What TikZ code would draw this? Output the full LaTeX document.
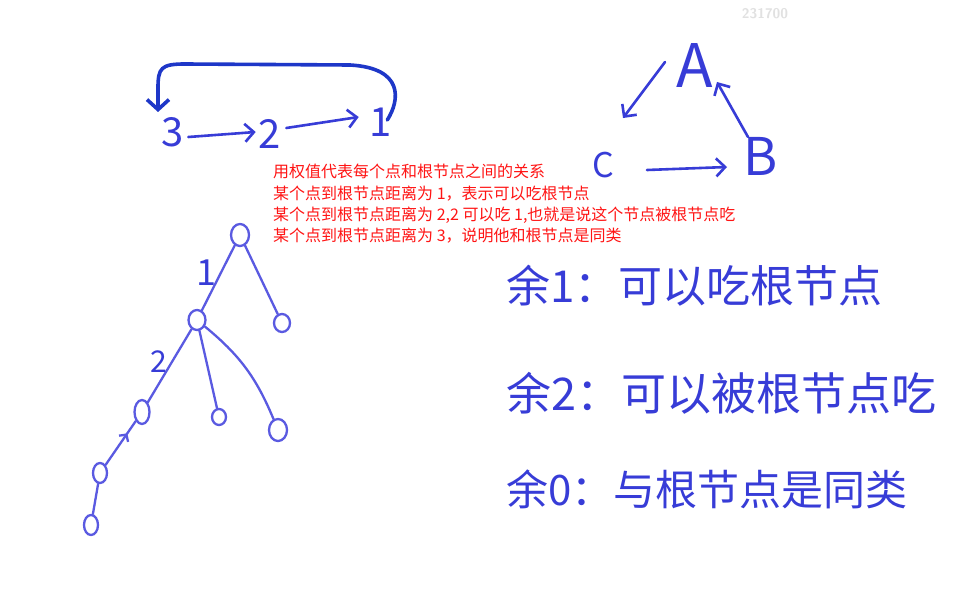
\documentclass[tikz,border=0pt]{standalone}
\usepackage{fontspec}
\newfontfamily\cjk{Noto Sans CJK SC}
\usetikzlibrary{arrows.meta,shapes.geometric,decorations.markings,calc}
\definecolor{hand}{RGB}{55,60,215}
\definecolor{treec}{RGB}{90,90,225}
\definecolor{loopc}{RGB}{30,55,200}
\definecolor{redt}{RGB}{255,20,20}
\definecolor{wm}{RGB}{225,225,225}
\newcommand{\fs}[1]{\cjk\fontsize{#1}{#1}\selectfont}
\begin{document}
\begin{tikzpicture}[x=1pt,y=-1pt,
  hw/.style={text=hand, inner sep=1pt},
  arr/.style={draw=hand, line width=2.6pt, line cap=round,
    -{Straight Barb[length=9pt,width=18pt,line width=2.6pt]}},
  tn/.style={draw=treec, line width=2.3pt, ellipse, inner sep=0pt},
  te/.style={draw=treec, line width=2.3pt, line cap=round},
  lab/.style={text=hand, inner sep=1pt}]
\useasboundingbox[fill=white] (0,0) rectangle (965,599);

% watermark
\node[text=wm, font=\sffamily\bfseries\fontsize{14}{14}\selectfont] (wmk) at (765,14) {231700};

% top-left chain 3 -> 2 -> 1 with loop
\node[hw, font=\fs{40}] (n3) at (173,132) {3};
\node[hw, font=\fs{40}] (n2) at (270,134) {2};
\node[hw, font=\fs{40}] (n1) at (381,122) {1};
\coordinate (loopend) at (158,112);
\draw[arr] ([shift={(3,5)}]n3.east) -- ([shift={(-2,-2)}]n2.west);
\draw[arr] ([shift={(4,-6)}]n2.east) -- ([shift={(-10,-5)}]n1.west);
\draw[draw=loopc, line width=3.6pt, line cap=round, line join=round,
  -{Straight Barb[length=10pt,width=22pt,line width=3.6pt]}]
  ([shift={(-6,-2)}]n1.east) .. controls (400,100) and (404,68) .. (350,65)
  -- (185,64) .. controls (161,64) and (158,68) .. (158,88) -- (loopend);

% triangle A B C
\node[hw, font=\fs{60}] (A) at (695,66) {A};
\node[hw, font=\fs{52}] (B) at (761,156) {B};
\node[hw, font=\fs{34}] (C) at (603,165) {C};
\draw[arr] ([shift={(-30,-4)}]A.center) -- ([shift={(20,-47)}]C.center);
\draw[arr] ([shift={(-13,-19)}]B.center) -- ([shift={(22,16)}]A.center);
\draw[arr] ([shift={(44,5)}]C.center) -- ([shift={(-34,11)}]B.center);

% red notes
\node[anchor=north west, inner sep=0pt, text=redt, align=left,
  font=\cjk\fontsize{16}{21.3}\selectfont] (note) at (273,164)
  {用权值代表每个点和根节点之间的关系\\
   某个点到根节点距离为 1，表示可以吃根节点\\
   某个点到根节点距离为 2,2 可以吃 1,也就是说这个节点被根节点吃\\
   某个点到根节点距离为 3，说明他和根节点是同类};

% tree
\node[tn, minimum width=18pt, minimum height=22pt] (r)  at (240,235) {};
\node[tn, minimum width=17pt, minimum height=20pt] (m)  at (197,320) {};
\node[tn, minimum width=16pt, minimum height=18pt] (rc) at (282,323) {};
\node[tn, minimum width=15pt, minimum height=24pt] (d)  at (142,412) {};
\node[tn, minimum width=14pt, minimum height=16pt] (c1) at (219,417) {};
\node[tn, minimum width=18pt, minimum height=22pt] (c2) at (278,430) {};
\node[tn, minimum width=14pt, minimum height=20pt] (e)  at (100,473) {};
\node[tn, minimum width=14pt, minimum height=20pt] (f)  at (91,525) {};
\draw[te] (r) -- node[pos=0.42, left=2pt, lab, font=\fs{36}] (l1) {1} (m);
\draw[te] (r) -- (rc);
\draw[te] (m) -- node[pos=0.45, left=3pt, lab, font=\fs{30}] (l2) {2} (d);
\draw[te] (m) -- (c1);
\draw[te] (m) to[bend left=14] (c2);
\draw[te, postaction={decorate}, decoration={markings,
  mark=at position 0.72 with {\arrow{Straight Barb[length=5pt,width=11pt,line width=2.3pt]}}}]
  (e) -- (d);
\draw[te] (f) -- (e);

% handwritten remainders
\node[hw, anchor=base west, font=\fs{44}] (r1) at (505,302) {余1：可以吃根节点};
\node[hw, anchor=base west, font=\fs{45}] (r2) at (505,410) {余2：可以被根节点吃};
\node[hw, anchor=base west, font=\fs{42}] (r3) at (505,505) {余0：与根节点是同类};
\end{tikzpicture}
\end{document}
